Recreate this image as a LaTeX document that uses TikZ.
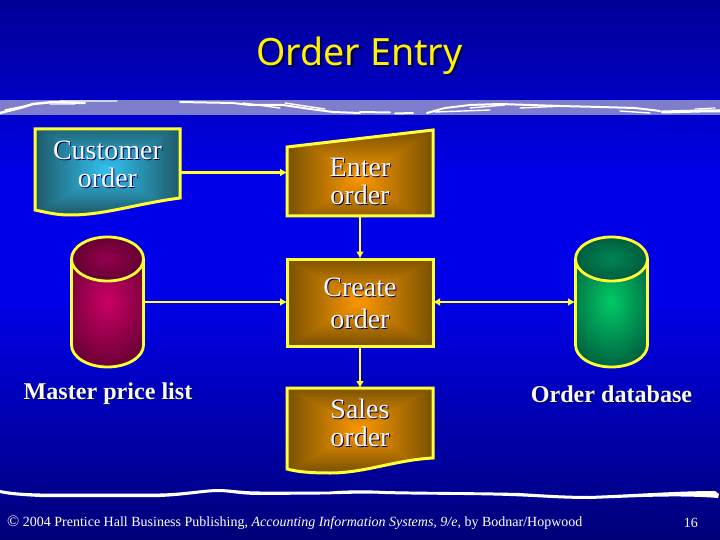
\documentclass[tikz,border=0pt]{standalone}
\usepackage{fontspec}
\setmainfont{Liberation Serif}
\newfontfamily\titlefont{Noto Sans}
\usetikzlibrary{arrows.meta}
\definecolor{bgdark}{RGB}{0,0,150}
\definecolor{bgbright}{RGB}{0,0,232}
\definecolor{bgfoot}{RGB}{0,0,120}
\definecolor{stripe}{RGB}{126,126,205}
\definecolor{edgeY}{RGB}{255,255,51}
\definecolor{orIn}{RGB}{255,153,0}
\definecolor{orOut}{RGB}{122,82,0}
\definecolor{cyIn}{RGB}{51,195,245}
\definecolor{cyOut}{RGB}{30,90,105}
\definecolor{crIn}{RGB}{204,0,102}
\definecolor{crOut}{RGB}{100,0,50}
\definecolor{crTop}{RGB}{150,0,78}
\definecolor{grIn}{RGB}{0,204,102}
\definecolor{grOut}{RGB}{0,92,62}
\definecolor{grTop}{RGB}{0,135,85}
\definecolor{labelW}{RGB}{250,250,245}
\definecolor{shadowB}{RGB}{0,0,90}
\tikzset{
  slot/.style={inner sep=0pt,outer sep=0pt,draw=none,fill=none},
  outline/.style={draw=edgeY,line width=3pt,line join=miter},
  cylline/.style={draw=edgeY,line width=2.8pt},
  flow/.style={draw=edgeY,line width=2.3pt,-{Latex[length=7pt,width=8pt]}},
  flowboth/.style={draw=edgeY,line width=2.3pt,{Latex[length=7pt,width=8pt]}-{Latex[length=7pt,width=8pt]}},
  shapetext/.style={inner sep=0pt,align=center,font=\fontsize{28}{28.5}\selectfont,text=labelW},
  boldtext/.style={inner sep=0pt,font=\fontsize{24.1}{26}\selectfont\bfseries,text=labelW},
  foot/.style={inner sep=0pt,font=\fontsize{14}{16}\selectfont,text=white,anchor=west},
  tear/.style={draw=white,line cap=round,line join=round},
}
% nested rectangles: path gradient
\newcommand\rectgrad[6]{% cx cy a b inner outer
  \foreach \i in {0,...,30}{%
    \pgfmathsetmacro\pp{100*\i/30}%
    \pgfmathsetmacro\ka{#3*(1-\i/30)}%
    \pgfmathsetmacro\kb{#4*(1-\i/30)}%
    \fill[#5!\pp!#6] ({#1-\ka},{#2-\kb}) rectangle ({#1+\ka},{#2+\kb});
  }}
\newcommand\ellgrad[6]{% cx cy a b inner outer
  \fill[#6] ({#1-2*#3},{#2-2*#4}) rectangle ({#1+2*#3},{#2+2*#4});
  \foreach \i in {0,...,30}{%
    \pgfmathsetmacro\pp{100*\i/30}%
    \pgfmathsetmacro\ka{#3*(1-\i/30)}%
    \pgfmathsetmacro\kb{#4*(1-\i/30)}%
    \fill[#5!\pp!#6] (#1,#2) ellipse [x radius=\ka pt,y radius=\kb pt];
  }}
\newcommand\cylinder[7]{% cx rx topcy botcy inner outer topinner
  \begin{scope}
    \clip ({#1-#2},#3) -- ({#1-#2},#4) .. controls ({#1-#2},{#4+12}) and ({#1-20},{#4+22}) .. (#1,{#4+22})
     .. controls ({#1+20},{#4+22}) and ({#1+#2},{#4+12}) .. ({#1+#2},#4) -- ({#1+#2},#3) -- cycle;
    \ellgrad{#1}{302}{52}{72}{#5}{#6}
  \end{scope}
  \begin{scope}
    \clip (#1,#3) ellipse [x radius=#2 pt,y radius=22pt];
    \ellgrad{#1}{#3}{#2}{22}{#7}{#6}
  \end{scope}
  \draw[cylline] ({#1-#2},#3) -- ({#1-#2},#4)
     .. controls ({#1-#2},{#4+12}) and ({#1-20},{#4+22}) .. (#1,{#4+22})
     .. controls ({#1+20},{#4+22}) and ({#1+#2},{#4+12}) .. ({#1+#2},#4) -- ({#1+#2},#3);
  \draw[cylline] (#1,#3) ellipse [x radius=#2 pt,y radius=22pt];
}
\newcommand\stext[4]{% name, x, y, text
  \node[shapetext,text=shadowB] at ({#2+1},{#3+1}) {#4};
  \node[shapetext] (#1) at (#2,#3) {#4};}
\newcommand\btext[4]{%
  \node[boldtext,text=shadowB] at ({#2+1.2},{#3+1.2}) {#4};
  \node[boldtext] (#1) at (#2,#3) {#4};}
\begin{document}
\begin{tikzpicture}[x=1pt,y=-1pt]
\useasboundingbox (0,0) rectangle (720,540);
% background
\shade[top color=bgdark,bottom color=bgbright] (0,0) rectangle (720,175);
\fill[bgbright] (0,174) rectangle (720,300);
\shade[top color=bgbright,bottom color=bgfoot] (0,299) rectangle (720,540);
% title
\node[inner sep=0pt,font=\titlefont\fontsize{37.6}{40}\selectfont,text=shadowB] at (361.8,58) {Order Entry};
\node[inner sep=0pt,font=\titlefont\fontsize{37.6}{40}\selectfont,text=yellow] (title) at (359.5,55.5) {Order Entry};
% upper torn rule
\fill[stripe] (0,100) rectangle (720,115);
\draw[tear,line width=2.4pt] (0,113) -- (20,108) -- (33,104) -- (53,102) -- (85,103);
\draw[tear,line width=1.4pt] (5,110) -- (30,105) (60,101) -- (117,101) (50,104) -- (75,104);
\draw[tear,line width=2pt] (180,102) -- (233,103) -- (250,105) -- (283,105) -- (310,109) -- (333,112) -- (360,113);
\draw[tear,line width=1.4pt] (243,103) -- (280,108) (285,103) -- (325,109);
\draw[tear,line width=2pt] (360,112) -- (390,112.5) (395,113.5) -- (413,113) (427,113) -- (445,108) -- (470,105) -- (500,104) -- (560,106) -- (600,107) -- (635,108) -- (660,111);
\draw[tear,line width=1.4pt] (435,112) -- (490,110) (470,108) -- (505,105) (520,108) -- (565,106) (620,111) -- (650,113);
\draw[tear,line width=3pt] (662,112) -- (700,111) -- (720,111);
\draw[tear,line width=1.2pt] (695,109) -- (715,108);
% lower torn rule
\fill[white] (0,490) .. controls (10,492) and (20,493) .. (40,493.5) -- (160,493.5) .. controls (185,493) and (205,489) .. (218,489)
  .. controls (230,489) and (240,491.5) .. (260,491.5) -- (330,491.5) .. controls (350,490) and (365,490) .. (385,491)
  .. controls (420,492) and (480,492) .. (520,493) .. controls (550,495) and (570,496) .. (590,496)
  .. controls (640,494) and (680,491) .. (715,491) -- (719,494) -- (718,498)
  .. controls (680,495) and (640,497) .. (590,499) .. controls (560,499) and (540,497) .. (510,496)
  .. controls (470,494.5) and (420,495) .. (385,494) .. controls (365,493) and (345,494) .. (320,494.5) -- (260,495)
  .. controls (240,495) and (230,492) .. (218,492) .. controls (205,492) and (185,496) .. (160,497) -- (40,497)
  .. controls (20,496) and (8,495) .. (0,493) -- cycle;
% anchors for connectors
\node[slot,minimum width=145pt,minimum height=86pt] (co) at (107.5,172.5) {};
\node[slot,minimum width=146pt,minimum height=86pt] (eo) at (360,172.5) {};
\node[slot,minimum width=146pt,minimum height=87pt] (cr) at (360,302) {};
\node[slot,minimum width=146pt,minimum height=85pt] (so) at (360,430.5) {};
\node[slot,minimum width=73pt,minimum height=130pt] (mp) at (107.5,302) {};
\node[slot,minimum width=73pt,minimum height=130pt] (od) at (611.5,302) {};
% Customer order
\begin{scope}
  \clip (35,129) -- (180,129) -- (180,198) .. controls (135,204) and (105,215) .. (70,215) .. controls (55,215) and (45,212) .. (35,210) -- cycle;
  \rectgrad{107.5}{170}{73}{45}{cyIn}{cyOut}
\end{scope}
\draw[outline] (35,129) -- (180,129) -- (180,198) .. controls (135,204) and (105,215) .. (70,215) .. controls (55,215) and (45,212) .. (35,210) -- cycle;
% Enter order
\begin{scope}
  \clip (287,147) -- (433,130) -- (433,216) -- (287,216) -- cycle;
  \rectgrad{360}{178}{73}{48}{orIn}{orOut}
\end{scope}
\draw[outline] (287,147) -- (433,130) -- (433,216) -- (287,216) -- cycle;
% Create order
\rectgrad{360}{302.5}{73}{43.5}{orIn}{orOut}
\draw[outline] (287,259) rectangle (433,346);
% Sales order
\begin{scope}
  \clip (287,388) -- (433,388) -- (433,458) .. controls (395,460) and (365,473) .. (330,473) .. controls (312,473) and (298,472) .. (287,469) -- cycle;
  \rectgrad{360}{430}{73}{43}{orIn}{orOut}
\end{scope}
\draw[outline] (287,388) -- (433,388) -- (433,458) .. controls (395,460) and (365,473) .. (330,473) .. controls (312,473) and (298,472) .. (287,469) -- cycle;
% cylinders
\cylinder{107.5}{36}{259}{345}{crIn}{crOut}{crTop}
\cylinder{611.5}{36}{259}{345}{grIn}{grOut}{grTop}
% connectors
\draw[flow] (co.east) -- (eo.west);
\draw[flow] (eo.south) -- (cr.north);
\draw[flow] (mp.east) -- (cr.west);
\draw[flowboth] (cr.east) -- (od.west);
\draw[flow] (cr.south) -- (so.north);
% labels
\stext{t1}{107.5}{164.5}{Customer\\order}
\stext{t2}{360}{181.5}{Enter\\order}
\node[shapetext,text=shadowB,font=\fontsize{28}{32.5}\selectfont] at (361,304.5) {Create\\order};
\node[shapetext,font=\fontsize{28}{32.5}\selectfont] (t3) at (360,303.5) {Create\\order};
\stext{t4}{360}{423}{Sales\\order}
\btext{t5}{108}{393.5}{Master price list}
\btext{t6}{611.5}{394.5}{Order database}
% footer
\node[foot] (ft) at (7,522.5) {{\fontsize{16}{16}\selectfont\textcopyright} 2004 Prentice Hall Business Publishing, \textit{Accounting Information Systems, 9/e}, by Bodnar/Hopwood};
\node[foot,anchor=east] (pg) at (698,522.5) {16};
\end{tikzpicture}
\end{document}
